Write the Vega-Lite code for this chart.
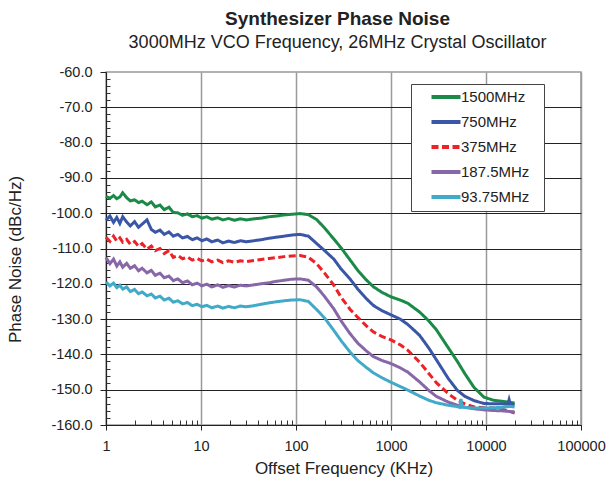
{
  "$schema": "https://vega.github.io/schema/vega-lite/v6.json",
  "width": 475,
  "height": 353,
  "autosize": {"type": "none"},
  "padding": {"left": 106, "top": 72, "right": 27, "bottom": 60},
  "background": "white",
  "title": {
    "text": "Synthesizer Phase Noise",
    "subtitle": "3000MHz VCO Frequency, 26MHz Crystal Oscillator",
    "anchor": "middle",
    "offset": 12,
    "dx": -6,
    "font": "Liberation Sans",
    "fontSize": 19,
    "fontWeight": "bold",
    "color": "#222",
    "subtitleFont": "Liberation Sans",
    "subtitleFontSize": 18,
    "subtitleFontWeight": "normal",
    "subtitleColor": "#222",
    "subtitlePadding": 5
  },
  "config": {
    "font": "Liberation Sans",
    "view": {"stroke": "#999", "strokeWidth": 1.5}
  },
  "data": {
    "values": [
      {"f": 1, "s": "1500MHz", "v": -95.2}, {"f": 1.1, "s": "1500MHz", "v": -95.8}, {"f": 1.2, "s": "1500MHz", "v": -95.0}, {"f": 1.3, "s": "1500MHz", "v": -95.9},
      {"f": 1.4, "s": "1500MHz", "v": -95.4}, {"f": 1.5, "s": "1500MHz", "v": -94.2}, {"f": 1.65, "s": "1500MHz", "v": -95.6}, {"f": 1.8, "s": "1500MHz", "v": -96.5},
      {"f": 2.0, "s": "1500MHz", "v": -96.2}, {"f": 2.2, "s": "1500MHz", "v": -97.0}, {"f": 2.4, "s": "1500MHz", "v": -96.6}, {"f": 2.7, "s": "1500MHz", "v": -97.6},
      {"f": 3.0, "s": "1500MHz", "v": -96.8}, {"f": 3.3, "s": "1500MHz", "v": -98.2}, {"f": 3.7, "s": "1500MHz", "v": -97.7}, {"f": 4.1, "s": "1500MHz", "v": -99.0},
      {"f": 4.6, "s": "1500MHz", "v": -98.3}, {"f": 5.1, "s": "1500MHz", "v": -99.8}, {"f": 5.7, "s": "1500MHz", "v": -99.9}, {"f": 6.4, "s": "1500MHz", "v": -100.6},
      {"f": 7.2, "s": "1500MHz", "v": -100.2}, {"f": 8.1, "s": "1500MHz", "v": -101.0}, {"f": 9.1, "s": "1500MHz", "v": -100.7}, {"f": 10.2, "s": "1500MHz", "v": -101.4},
      {"f": 11.5, "s": "1500MHz", "v": -101.0}, {"f": 13, "s": "1500MHz", "v": -101.7}, {"f": 15, "s": "1500MHz", "v": -101.3}, {"f": 17, "s": "1500MHz", "v": -101.9},
      {"f": 19.5, "s": "1500MHz", "v": -101.5}, {"f": 22.5, "s": "1500MHz", "v": -102.0}, {"f": 26, "s": "1500MHz", "v": -101.6}, {"f": 30, "s": "1500MHz", "v": -101.9},
      {"f": 36, "s": "1500MHz", "v": -101.6}, {"f": 43, "s": "1500MHz", "v": -101.4}, {"f": 52, "s": "1500MHz", "v": -101.0}, {"f": 62, "s": "1500MHz", "v": -100.8},
      {"f": 75, "s": "1500MHz", "v": -100.5}, {"f": 90, "s": "1500MHz", "v": -100.3}, {"f": 110, "s": "1500MHz", "v": -100.1}, {"f": 135, "s": "1500MHz", "v": -100.4},
      {"f": 165, "s": "1500MHz", "v": -101.8}, {"f": 200, "s": "1500MHz", "v": -104.2}, {"f": 250, "s": "1500MHz", "v": -107.3}, {"f": 300, "s": "1500MHz", "v": -109.9},
      {"f": 370, "s": "1500MHz", "v": -113.2}, {"f": 450, "s": "1500MHz", "v": -116.3}, {"f": 550, "s": "1500MHz", "v": -118.9}, {"f": 650, "s": "1500MHz", "v": -120.8},
      {"f": 800, "s": "1500MHz", "v": -122.4}, {"f": 1000, "s": "1500MHz", "v": -123.7}, {"f": 1250, "s": "1500MHz", "v": -124.6}, {"f": 1500, "s": "1500MHz", "v": -125.5},
      {"f": 2000, "s": "1500MHz", "v": -128.0}, {"f": 2500, "s": "1500MHz", "v": -130.5}, {"f": 3000, "s": "1500MHz", "v": -133.0}, {"f": 4000, "s": "1500MHz", "v": -138.1},
      {"f": 5000, "s": "1500MHz", "v": -142.0}, {"f": 6000, "s": "1500MHz", "v": -145.5}, {"f": 7500, "s": "1500MHz", "v": -149.4}, {"f": 9500, "s": "1500MHz", "v": -152.1},
      {"f": 12000, "s": "1500MHz", "v": -153.0}, {"f": 15000, "s": "1500MHz", "v": -153.3}, {"f": 18000, "s": "1500MHz", "v": -153.6}, {"f": 20000, "s": "1500MHz", "v": -153.8},

      {"f": 1, "s": "750MHz", "v": -102.0}, {"f": 1.1, "s": "750MHz", "v": -100.8}, {"f": 1.2, "s": "750MHz", "v": -102.6}, {"f": 1.3, "s": "750MHz", "v": -101.2},
      {"f": 1.4, "s": "750MHz", "v": -102.9}, {"f": 1.5, "s": "750MHz", "v": -101.0}, {"f": 1.65, "s": "750MHz", "v": -102.5}, {"f": 1.8, "s": "750MHz", "v": -103.6},
      {"f": 2.0, "s": "750MHz", "v": -102.4}, {"f": 2.2, "s": "750MHz", "v": -104.0}, {"f": 2.4, "s": "750MHz", "v": -103.1}, {"f": 2.7, "s": "750MHz", "v": -101.9},
      {"f": 3.0, "s": "750MHz", "v": -104.6}, {"f": 3.3, "s": "750MHz", "v": -105.4}, {"f": 3.7, "s": "750MHz", "v": -104.8}, {"f": 4.1, "s": "750MHz", "v": -106.0},
      {"f": 4.6, "s": "750MHz", "v": -105.3}, {"f": 5.1, "s": "750MHz", "v": -106.5}, {"f": 5.7, "s": "750MHz", "v": -106.0}, {"f": 6.4, "s": "750MHz", "v": -107.0},
      {"f": 7.2, "s": "750MHz", "v": -106.6}, {"f": 8.1, "s": "750MHz", "v": -107.5}, {"f": 9.1, "s": "750MHz", "v": -107.0}, {"f": 10.2, "s": "750MHz", "v": -107.8},
      {"f": 11.5, "s": "750MHz", "v": -107.3}, {"f": 13, "s": "750MHz", "v": -108.1}, {"f": 15, "s": "750MHz", "v": -107.6}, {"f": 17, "s": "750MHz", "v": -108.4},
      {"f": 19.5, "s": "750MHz", "v": -107.9}, {"f": 22.5, "s": "750MHz", "v": -108.3}, {"f": 26, "s": "750MHz", "v": -107.8}, {"f": 30, "s": "750MHz", "v": -108.1},
      {"f": 36, "s": "750MHz", "v": -107.8}, {"f": 43, "s": "750MHz", "v": -107.5}, {"f": 52, "s": "750MHz", "v": -107.1}, {"f": 62, "s": "750MHz", "v": -106.8},
      {"f": 75, "s": "750MHz", "v": -106.5}, {"f": 90, "s": "750MHz", "v": -106.2}, {"f": 110, "s": "750MHz", "v": -106.0}, {"f": 135, "s": "750MHz", "v": -106.5},
      {"f": 165, "s": "750MHz", "v": -108.6}, {"f": 200, "s": "750MHz", "v": -110.6}, {"f": 250, "s": "750MHz", "v": -113.0}, {"f": 300, "s": "750MHz", "v": -115.9},
      {"f": 370, "s": "750MHz", "v": -118.6}, {"f": 450, "s": "750MHz", "v": -121.6}, {"f": 550, "s": "750MHz", "v": -124.2}, {"f": 650, "s": "750MHz", "v": -126.1},
      {"f": 800, "s": "750MHz", "v": -127.6}, {"f": 1000, "s": "750MHz", "v": -128.8}, {"f": 1250, "s": "750MHz", "v": -130.0}, {"f": 1500, "s": "750MHz", "v": -131.5},
      {"f": 2000, "s": "750MHz", "v": -134.6}, {"f": 2500, "s": "750MHz", "v": -138.2}, {"f": 3000, "s": "750MHz", "v": -141.5}, {"f": 4000, "s": "750MHz", "v": -146.8},
      {"f": 5000, "s": "750MHz", "v": -150.2}, {"f": 6000, "s": "750MHz", "v": -151.9}, {"f": 7500, "s": "750MHz", "v": -153.1}, {"f": 9500, "s": "750MHz", "v": -153.9},
      {"f": 12000, "s": "750MHz", "v": -154.0}, {"f": 15000, "s": "750MHz", "v": -154.0}, {"f": 17000, "s": "750MHz", "v": -154.1}, {"f": 17500, "s": "750MHz", "v": -152.8},
      {"f": 18000, "s": "750MHz", "v": -154.0}, {"f": 20000, "s": "750MHz", "v": -154.3},

      {"f": 1, "s": "375MHz", "v": -106.8}, {"f": 1.1, "s": "375MHz", "v": -108.0}, {"f": 1.2, "s": "375MHz", "v": -106.5}, {"f": 1.3, "s": "375MHz", "v": -107.9},
      {"f": 1.4, "s": "375MHz", "v": -107.0}, {"f": 1.5, "s": "375MHz", "v": -108.2}, {"f": 1.65, "s": "375MHz", "v": -107.4}, {"f": 1.8, "s": "375MHz", "v": -108.8},
      {"f": 2.0, "s": "375MHz", "v": -108.0}, {"f": 2.2, "s": "375MHz", "v": -109.4}, {"f": 2.4, "s": "375MHz", "v": -108.6}, {"f": 2.7, "s": "375MHz", "v": -110.2},
      {"f": 3.0, "s": "375MHz", "v": -109.3}, {"f": 3.3, "s": "375MHz", "v": -110.6}, {"f": 3.7, "s": "375MHz", "v": -110.0}, {"f": 4.1, "s": "375MHz", "v": -111.4},
      {"f": 4.6, "s": "375MHz", "v": -110.6}, {"f": 5.1, "s": "375MHz", "v": -112.5}, {"f": 5.7, "s": "375MHz", "v": -112.0}, {"f": 6.4, "s": "375MHz", "v": -112.9},
      {"f": 7.2, "s": "375MHz", "v": -112.4}, {"f": 8.1, "s": "375MHz", "v": -113.3}, {"f": 9.1, "s": "375MHz", "v": -112.8}, {"f": 10.2, "s": "375MHz", "v": -113.5},
      {"f": 11.5, "s": "375MHz", "v": -113.0}, {"f": 13, "s": "375MHz", "v": -113.8}, {"f": 15, "s": "375MHz", "v": -113.3}, {"f": 17, "s": "375MHz", "v": -114.0},
      {"f": 19.5, "s": "375MHz", "v": -113.5}, {"f": 22.5, "s": "375MHz", "v": -113.9}, {"f": 26, "s": "375MHz", "v": -113.5}, {"f": 30, "s": "375MHz", "v": -113.7},
      {"f": 36, "s": "375MHz", "v": -113.4}, {"f": 43, "s": "375MHz", "v": -113.1}, {"f": 52, "s": "375MHz", "v": -112.8}, {"f": 62, "s": "375MHz", "v": -112.6},
      {"f": 75, "s": "375MHz", "v": -112.3}, {"f": 90, "s": "375MHz", "v": -112.1}, {"f": 110, "s": "375MHz", "v": -112.0}, {"f": 135, "s": "375MHz", "v": -112.5},
      {"f": 165, "s": "375MHz", "v": -114.3}, {"f": 200, "s": "375MHz", "v": -117.0}, {"f": 250, "s": "375MHz", "v": -120.4}, {"f": 300, "s": "375MHz", "v": -123.9},
      {"f": 370, "s": "375MHz", "v": -127.2}, {"f": 450, "s": "375MHz", "v": -129.6}, {"f": 550, "s": "375MHz", "v": -131.9}, {"f": 650, "s": "375MHz", "v": -133.6},
      {"f": 800, "s": "375MHz", "v": -134.9}, {"f": 1000, "s": "375MHz", "v": -135.9}, {"f": 1250, "s": "375MHz", "v": -137.3}, {"f": 1500, "s": "375MHz", "v": -138.8},
      {"f": 2000, "s": "375MHz", "v": -142.2}, {"f": 2500, "s": "375MHz", "v": -145.4}, {"f": 3000, "s": "375MHz", "v": -148.0}, {"f": 4000, "s": "375MHz", "v": -151.1},
      {"f": 5000, "s": "375MHz", "v": -153.0}, {"f": 6000, "s": "375MHz", "v": -154.0}, {"f": 7500, "s": "375MHz", "v": -154.9}, {"f": 9500, "s": "375MHz", "v": -155.1},
      {"f": 12000, "s": "375MHz", "v": -155.2}, {"f": 15000, "s": "375MHz", "v": -155.6}, {"f": 18000, "s": "375MHz", "v": -156.2}, {"f": 20000, "s": "375MHz", "v": -156.6},

      {"f": 1, "s": "187.5MHz", "v": -112.6}, {"f": 1.1, "s": "187.5MHz", "v": -114.3}, {"f": 1.2, "s": "187.5MHz", "v": -113.0}, {"f": 1.3, "s": "187.5MHz", "v": -115.0},
      {"f": 1.4, "s": "187.5MHz", "v": -113.8}, {"f": 1.5, "s": "187.5MHz", "v": -115.3}, {"f": 1.65, "s": "187.5MHz", "v": -114.2}, {"f": 1.8, "s": "187.5MHz", "v": -115.6},
      {"f": 2.0, "s": "187.5MHz", "v": -114.9}, {"f": 2.2, "s": "187.5MHz", "v": -116.3}, {"f": 2.4, "s": "187.5MHz", "v": -115.6}, {"f": 2.7, "s": "187.5MHz", "v": -116.9},
      {"f": 3.0, "s": "187.5MHz", "v": -116.2}, {"f": 3.3, "s": "187.5MHz", "v": -117.6}, {"f": 3.7, "s": "187.5MHz", "v": -117.0}, {"f": 4.1, "s": "187.5MHz", "v": -118.3},
      {"f": 4.6, "s": "187.5MHz", "v": -117.8}, {"f": 5.1, "s": "187.5MHz", "v": -119.1}, {"f": 5.7, "s": "187.5MHz", "v": -118.6}, {"f": 6.4, "s": "187.5MHz", "v": -119.7},
      {"f": 7.2, "s": "187.5MHz", "v": -119.2}, {"f": 8.1, "s": "187.5MHz", "v": -120.3}, {"f": 9.1, "s": "187.5MHz", "v": -119.8}, {"f": 10.2, "s": "187.5MHz", "v": -120.6},
      {"f": 11.5, "s": "187.5MHz", "v": -120.1}, {"f": 13, "s": "187.5MHz", "v": -120.9}, {"f": 15, "s": "187.5MHz", "v": -120.3}, {"f": 17, "s": "187.5MHz", "v": -121.0},
      {"f": 19.5, "s": "187.5MHz", "v": -120.5}, {"f": 22.5, "s": "187.5MHz", "v": -120.9}, {"f": 26, "s": "187.5MHz", "v": -120.4}, {"f": 30, "s": "187.5MHz", "v": -120.6},
      {"f": 36, "s": "187.5MHz", "v": -120.3}, {"f": 43, "s": "187.5MHz", "v": -120.0}, {"f": 52, "s": "187.5MHz", "v": -119.7}, {"f": 62, "s": "187.5MHz", "v": -119.3},
      {"f": 75, "s": "187.5MHz", "v": -119.0}, {"f": 90, "s": "187.5MHz", "v": -118.7}, {"f": 110, "s": "187.5MHz", "v": -118.6}, {"f": 135, "s": "187.5MHz", "v": -119.0},
      {"f": 165, "s": "187.5MHz", "v": -120.9}, {"f": 200, "s": "187.5MHz", "v": -123.6}, {"f": 250, "s": "187.5MHz", "v": -127.1}, {"f": 300, "s": "187.5MHz", "v": -130.6},
      {"f": 370, "s": "187.5MHz", "v": -134.1}, {"f": 450, "s": "187.5MHz", "v": -136.9}, {"f": 550, "s": "187.5MHz", "v": -139.0}, {"f": 650, "s": "187.5MHz", "v": -140.6},
      {"f": 800, "s": "187.5MHz", "v": -141.7}, {"f": 1000, "s": "187.5MHz", "v": -142.6}, {"f": 1250, "s": "187.5MHz", "v": -143.8}, {"f": 1500, "s": "187.5MHz", "v": -145.0},
      {"f": 2000, "s": "187.5MHz", "v": -147.8}, {"f": 2500, "s": "187.5MHz", "v": -150.2}, {"f": 3000, "s": "187.5MHz", "v": -151.9}, {"f": 4000, "s": "187.5MHz", "v": -153.5},
      {"f": 5000, "s": "187.5MHz", "v": -154.4}, {"f": 6000, "s": "187.5MHz", "v": -155.0}, {"f": 7500, "s": "187.5MHz", "v": -155.4}, {"f": 9500, "s": "187.5MHz", "v": -155.7},
      {"f": 12000, "s": "187.5MHz", "v": -155.9}, {"f": 15000, "s": "187.5MHz", "v": -156.0}, {"f": 18000, "s": "187.5MHz", "v": -156.2}, {"f": 20000, "s": "187.5MHz", "v": -156.3},

      {"f": 1, "s": "93.75MHz", "v": -119.5}, {"f": 1.1, "s": "93.75MHz", "v": -120.6}, {"f": 1.2, "s": "93.75MHz", "v": -119.8}, {"f": 1.3, "s": "93.75MHz", "v": -121.1},
      {"f": 1.4, "s": "93.75MHz", "v": -120.4}, {"f": 1.5, "s": "93.75MHz", "v": -121.5}, {"f": 1.65, "s": "93.75MHz", "v": -120.9}, {"f": 1.8, "s": "93.75MHz", "v": -122.2},
      {"f": 2.0, "s": "93.75MHz", "v": -121.6}, {"f": 2.2, "s": "93.75MHz", "v": -122.8}, {"f": 2.4, "s": "93.75MHz", "v": -122.3}, {"f": 2.7, "s": "93.75MHz", "v": -123.4},
      {"f": 3.0, "s": "93.75MHz", "v": -122.9}, {"f": 3.3, "s": "93.75MHz", "v": -124.0}, {"f": 3.7, "s": "93.75MHz", "v": -123.5}, {"f": 4.1, "s": "93.75MHz", "v": -124.6},
      {"f": 4.6, "s": "93.75MHz", "v": -124.1}, {"f": 5.1, "s": "93.75MHz", "v": -125.2}, {"f": 5.7, "s": "93.75MHz", "v": -124.8}, {"f": 6.4, "s": "93.75MHz", "v": -125.7},
      {"f": 7.2, "s": "93.75MHz", "v": -125.3}, {"f": 8.1, "s": "93.75MHz", "v": -126.2}, {"f": 9.1, "s": "93.75MHz", "v": -125.8}, {"f": 10.2, "s": "93.75MHz", "v": -126.5},
      {"f": 11.5, "s": "93.75MHz", "v": -126.1}, {"f": 13, "s": "93.75MHz", "v": -126.8}, {"f": 15, "s": "93.75MHz", "v": -126.3}, {"f": 17, "s": "93.75MHz", "v": -126.9},
      {"f": 19.5, "s": "93.75MHz", "v": -126.4}, {"f": 22.5, "s": "93.75MHz", "v": -126.8}, {"f": 26, "s": "93.75MHz", "v": -126.3}, {"f": 30, "s": "93.75MHz", "v": -126.5},
      {"f": 36, "s": "93.75MHz", "v": -126.2}, {"f": 43, "s": "93.75MHz", "v": -125.8}, {"f": 52, "s": "93.75MHz", "v": -125.4}, {"f": 62, "s": "93.75MHz", "v": -125.1},
      {"f": 75, "s": "93.75MHz", "v": -124.8}, {"f": 90, "s": "93.75MHz", "v": -124.6}, {"f": 110, "s": "93.75MHz", "v": -124.5}, {"f": 135, "s": "93.75MHz", "v": -125.0},
      {"f": 165, "s": "93.75MHz", "v": -127.3}, {"f": 200, "s": "93.75MHz", "v": -129.7}, {"f": 250, "s": "93.75MHz", "v": -133.2}, {"f": 300, "s": "93.75MHz", "v": -136.2},
      {"f": 370, "s": "93.75MHz", "v": -139.3}, {"f": 450, "s": "93.75MHz", "v": -141.8}, {"f": 550, "s": "93.75MHz", "v": -143.7}, {"f": 650, "s": "93.75MHz", "v": -145.2},
      {"f": 800, "s": "93.75MHz", "v": -146.6}, {"f": 1000, "s": "93.75MHz", "v": -147.9}, {"f": 1250, "s": "93.75MHz", "v": -149.1}, {"f": 1500, "s": "93.75MHz", "v": -150.1},
      {"f": 2000, "s": "93.75MHz", "v": -151.8}, {"f": 2500, "s": "93.75MHz", "v": -153.0}, {"f": 3000, "s": "93.75MHz", "v": -153.7}, {"f": 4000, "s": "93.75MHz", "v": -154.4},
      {"f": 5000, "s": "93.75MHz", "v": -154.8}, {"f": 5300, "s": "93.75MHz", "v": -155.0}, {"f": 5450, "s": "93.75MHz", "v": -152.6}, {"f": 5600, "s": "93.75MHz", "v": -155.0},
      {"f": 6000, "s": "93.75MHz", "v": -155.0}, {"f": 7500, "s": "93.75MHz", "v": -155.2}, {"f": 9500, "s": "93.75MHz", "v": -155.2}, {"f": 12000, "s": "93.75MHz", "v": -155.1},
      {"f": 15000, "s": "93.75MHz", "v": -155.0}, {"f": 18000, "s": "93.75MHz", "v": -154.7}, {"f": 20000, "s": "93.75MHz", "v": -154.9}
    ]
  },
  "layer": [
    {
      "mark": {"type": "line", "strokeWidth": 3},
      "encoding": {
        "x": {
          "field": "f",
          "type": "quantitative",
          "scale": {"type": "log", "domain": [1, 100000], "nice": false},
          "axis": {
            "orient": "bottom",
            "values": [1, 10, 100, 1000, 10000, 100000],
            "format": "d",
            "tickSize": 5,
            "tickColor": "#222",
            "domainColor": "#222",
            "labelFontSize": 14.5,
            "labelColor": "#222",
            "labelPadding": 9,
            "labelFlush": false,
            "labelOverlap": false,
            "grid": true,
            "gridColor": "#9a9a9a",
            "gridWidth": 1.5,
            "title": "Offset Frequency (KHz)",
            "titleFontSize": 17,
            "titleFontWeight": "normal",
            "titleColor": "#222",
            "titlePadding": 8
          }
        },
        "y": {
          "field": "v",
          "type": "quantitative",
          "scale": {"domain": [-160, -60], "nice": false, "zero": false},
          "axis": {
            "orient": "left",
            "values": [-160, -150, -140, -130, -120, -110, -100, -90, -80, -70, -60],
            "labelExpr": "(datum.value < 0 ? '-' : '') + format(abs(datum.value), '.1f')",
            "tickSize": 6,
            "tickColor": "#222",
            "domainColor": "#222",
            "labelFontSize": 14.5,
            "labelColor": "#222",
            "labelPadding": 8,
            "grid": true,
            "gridColor": "#222",
            "gridWidth": 1,
            "gridOpacity": {"condition": {"test": "datum.value == -60", "value": 0}, "value": 1},
            "title": "Phase Noise (dBc/Hz)",
            "titleFontSize": 17,
            "titleFontWeight": "normal",
            "titleColor": "#222",
            "titleX": -91,
            "titleY": 187,
            "titleBaseline": "middle"
          }
        },
        "color": {
          "field": "s",
          "type": "nominal",
          "scale": {
            "domain": ["1500MHz", "750MHz", "375MHz", "187.5MHz", "93.75MHz"],
            "range": ["#1b8a47", "#3a56a6", "#ec2227", "#8767a8", "#40aac8"]
          },
          "legend": {
            "title": ".",
            "titleOrient": "right",
            "titleOpacity": 0,
            "titleFontSize": 12,
            "titlePadding": 5,
            "orient": "none",
            "legendX": 305,
            "legendY": 12,
            "padding": 5.5,
            "fillColor": "white",
            "strokeColor": "#444",
            "symbolType": "M-2.9,0L2.9,0",
            "symbolSize": 100,
            "symbolStrokeWidth": 4,
            "symbolOffset": 22,
            "labelOffset": 7.5,
            "labelFontSize": 15,
            "labelColor": "#222",
            "rowPadding": 8
          }
        },
        "strokeDash": {
          "field": "s",
          "type": "nominal",
          "scale": {
            "domain": ["1500MHz", "750MHz", "375MHz", "187.5MHz", "93.75MHz"],
            "range": [[1, 0], [1, 0], [7, 3.5], [1, 0], [1, 0]]
          },
          "legend": {
            "title": ".",
            "titleOrient": "right",
            "titleOpacity": 0,
            "titleFontSize": 12,
            "titlePadding": 5,
            "orient": "none",
            "legendX": 305,
            "legendY": 12,
            "padding": 5.5,
            "fillColor": "white",
            "strokeColor": "#444",
            "symbolType": "M-2.9,0L2.9,0",
            "symbolSize": 100,
            "symbolStrokeWidth": 4,
            "symbolOffset": 22,
            "labelOffset": 7.5,
            "labelFontSize": 15,
            "labelColor": "#222",
            "rowPadding": 8
          }
        }
      }
    },
    {
      "mark": {"type": "point", "opacity": 0},
      "encoding": {
        "x": {
          "field": "f",
          "type": "quantitative",
          "axis": {
            "orient": "bottom",
            "values": [2, 3, 4, 5, 6, 7, 8, 9, 20, 30, 40, 50, 60, 70, 80, 90, 200, 300, 400, 500, 600, 700, 800, 900, 2000, 3000, 4000, 5000, 6000, 7000, 8000, 9000, 20000, 30000, 40000, 50000, 60000, 70000, 80000, 90000],
            "tickSize": -5,
            "tickColor": "#333",
            "labels": false,
            "domain": false,
            "grid": false,
            "title": null
          }
        },
        "y": {
          "field": "v",
          "type": "quantitative",
          "axis": {
            "orient": "left",
            "values": [-158, -156, -154, -152, -148, -146, -144, -142, -138, -136, -134, -132, -128, -126, -124, -122, -118, -116, -114, -112, -108, -106, -104, -102, -98, -96, -94, -92, -88, -86, -84, -82, -78, -76, -74, -72, -68, -66, -64, -62],
            "tickSize": -4,
            "tickColor": "#333",
            "labels": false,
            "domain": false,
            "grid": false,
            "title": null
          }
        }
      }
    }
  ],
  "resolve": {"axis": {"x": "independent", "y": "independent"}}
}
